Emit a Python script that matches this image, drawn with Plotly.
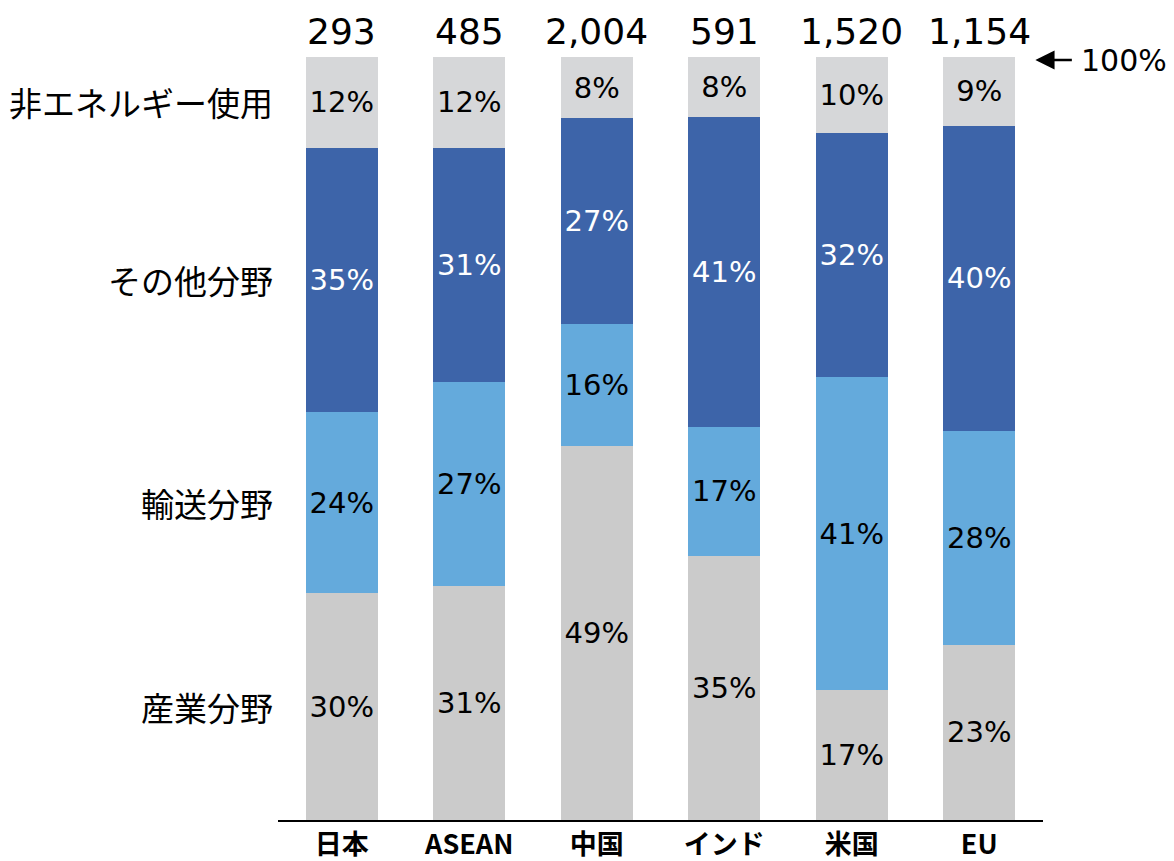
import plotly.graph_objects as go

regions = ["日本", "ASEAN", "中国", "インド", "米国", "EU"]
totals = ["293", "485", "2,004", "591", "1,520", "1,154"]
series_names = ["産業分野", "輸送分野", "その他分野", "非エネルギー使用"]
industry = [30, 31, 49, 35, 17, 23]
transport = [24, 27, 16, 17, 41, 28]
other = [35, 31, 27, 41, 32, 40]
non_energy = [12, 12, 8, 8, 10, 9]

series_values = [industry, transport, other, non_energy]
colors = ["#CBCBCB", "#64AADC", "#3D64A9", "#D6D7D9"]
text_colors = ["black", "black", "white", "black"]

NUM_FONT = "DejaVu Sans, Noto Sans CJK JP"
JP_FONT = "Noto Sans CJK JP, DejaVu Sans"

fig = go.Figure()
for name, vals, col, tcol in zip(series_names, series_values, colors, text_colors):
    fig.add_trace(go.Bar(
        x=regions, y=vals, name=name,
        marker=dict(color=col, line=dict(width=0)),
        text=[f"{v}%" for v in vals],
        textposition="inside", insidetextanchor="middle", textangle=0,
        constraintext="none",
        textfont=dict(family=NUM_FONT, size=29, color=tcol),
        hoverinfo="skip",
    ))

# totals above bars
for r, t in zip(regions, totals):
    fig.add_annotation(x=r, y=100, xref="x", yref="y", text=t, showarrow=False,
                       yanchor="middle", yshift=26,
                       font=dict(family=NUM_FONT, size=36, color="black"))

# series labels on the left aligned with the first bar's segments
first = [v[0] for v in series_values]
s = sum(first)
cum = 0
for name, v in zip(series_names, first):
    mid = (cum + v / 2) / s * 100
    cum += v
    fig.add_annotation(x=-0.004, xref="paper", y=mid, yref="y", text=name,
                       showarrow=False, xanchor="right", yanchor="middle",
                       font=dict(family=JP_FONT, size=33, color="black"))

# 100% marker
fig.add_annotation(x=5.44, y=100, xref="x", yref="y", text="",
                   showarrow=True, ax=38, ay=0, arrowhead=2, arrowsize=1.6,
                   arrowwidth=2.4, arrowcolor="black", yshift=-3)
fig.add_annotation(x=1.047, y=100, xref="paper", yref="y", text="100%",
                   showarrow=False, xanchor="left", yanchor="middle", yshift=-3,
                   font=dict(family=NUM_FONT, size=30, color="black"))

fig.update_layout(
    barmode="stack", barnorm="percent", bargap=0.435,
    width=1174, height=861,
    margin=dict(l=278, r=131, t=57, b=41),
    paper_bgcolor="white", plot_bgcolor="white",
    showlegend=False,
    xaxis=dict(range=[-0.5, 5.5], showline=True, linecolor="black", linewidth=2,
               ticks="", showgrid=False, automargin=False, ticklabelstandoff=0,
               tickfont=dict(family=JP_FONT, size=27, color="black", weight="bold")),
    yaxis=dict(range=[0, 100], visible=False, showgrid=False, automargin=False),
)

fig.write_html("out.html")
